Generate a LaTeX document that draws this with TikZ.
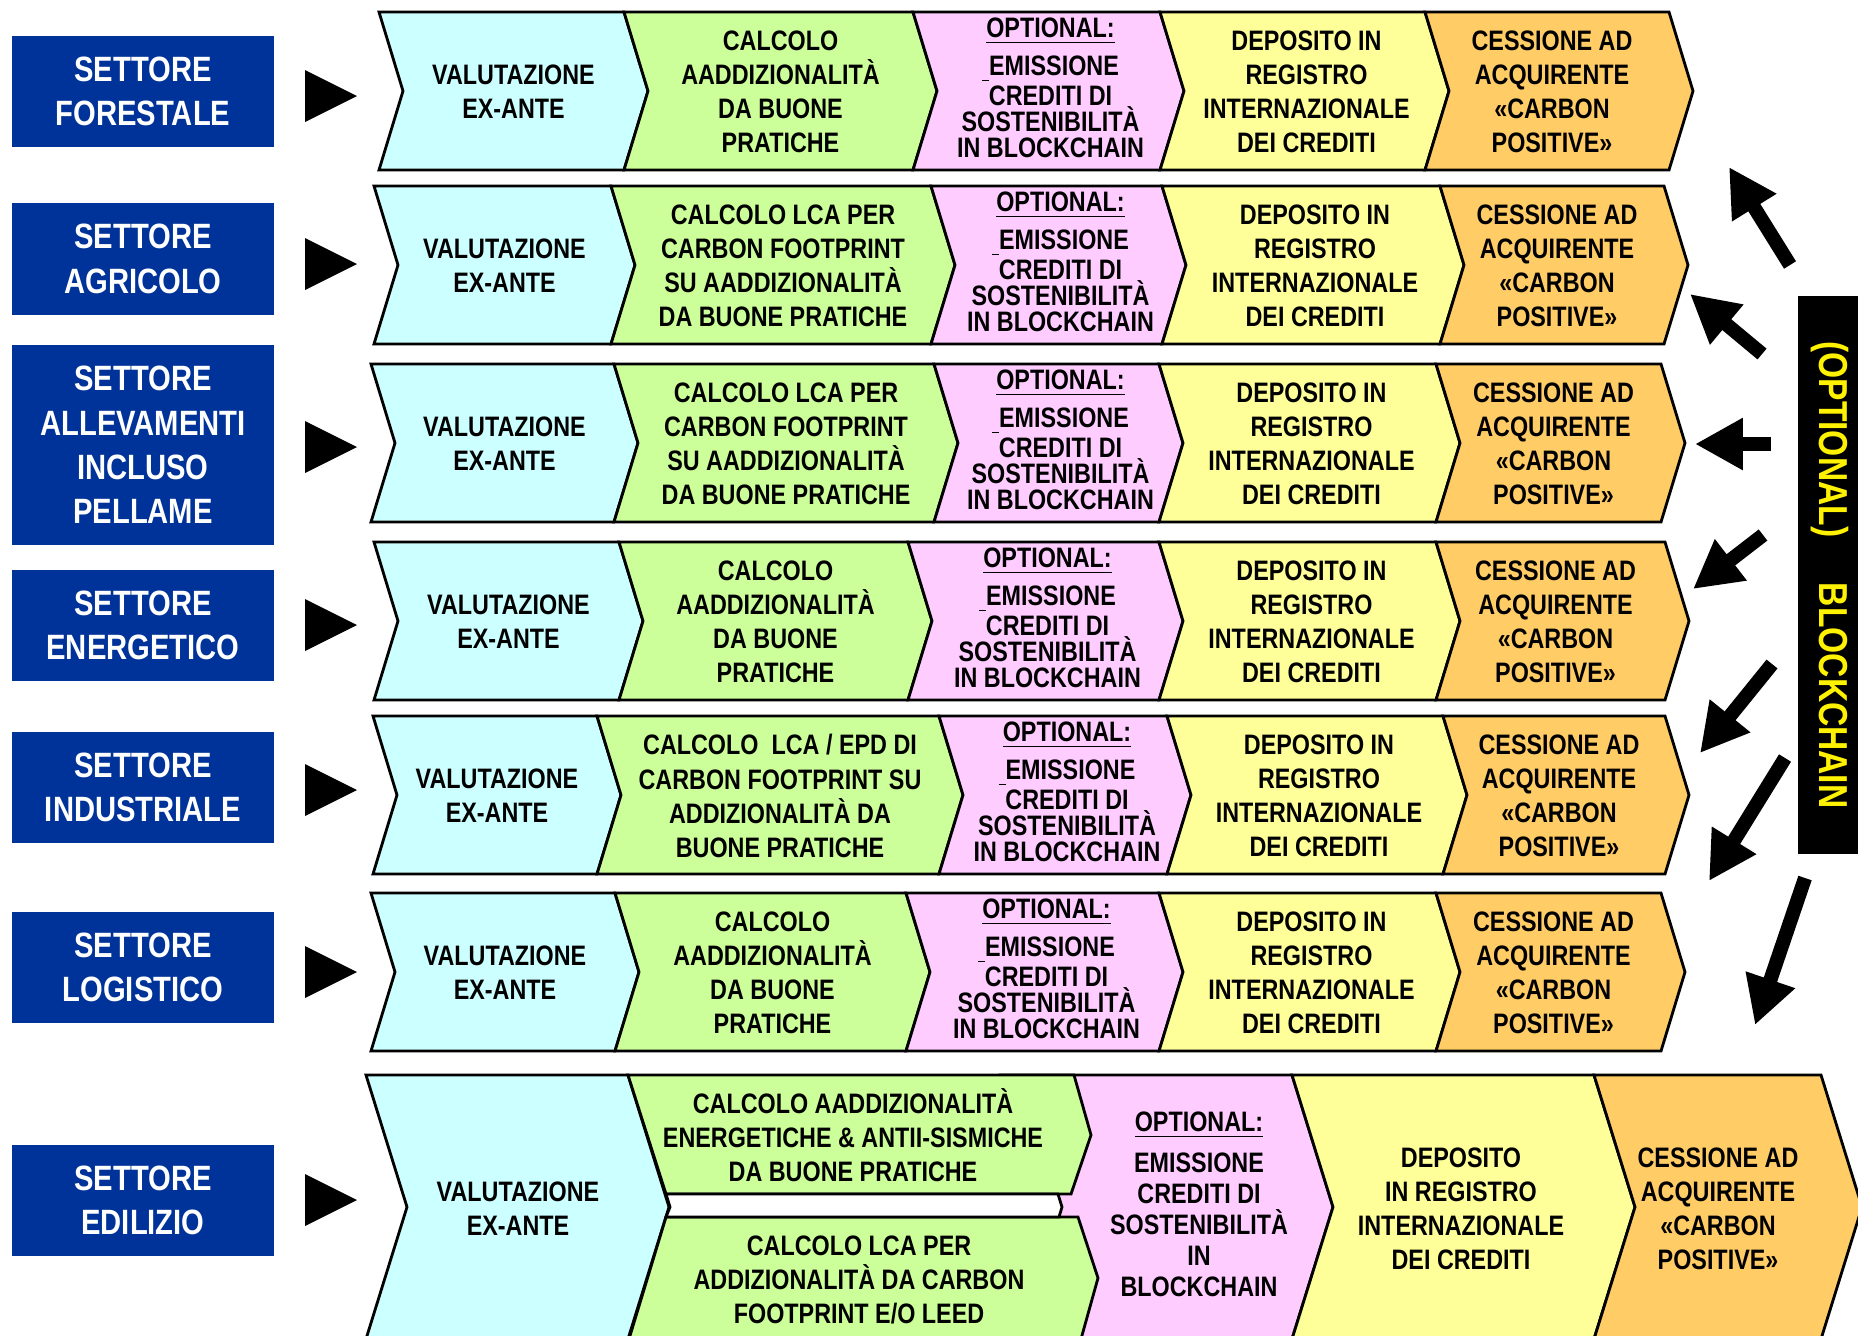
\documentclass[tikz,border=0pt]{standalone}
\usepackage{fontspec}
\newfontfamily\narrow[FakeStretch=0.83]{Liberation Sans}
\usetikzlibrary{arrows.meta}
\definecolor{sectblue}{HTML}{003399}
\definecolor{chcyan}{HTML}{CCFFFF}
\definecolor{chgreen}{HTML}{CCFF99}
\definecolor{chpink}{HTML}{FFCCFF}
\definecolor{chyellow}{HTML}{FFFF99}
\definecolor{chorange}{HTML}{FFCC66}

% one chevron: left x, right x, top y, height, depth, fill
\newcommand{\chev}[6]{%
  \filldraw[fill=#6,chevline] (#1,#3) -- (#2,#3) -- (#2+#5,#3+#4/2) -- (#2,#3+#4)
    -- (#1,#3+#4) -- (#1+#5,#3+#4/2) -- cycle;}

\newcommand{\greenA}{CALCOLO\\AADDIZIONALITÀ\\DA BUONE\\PRATICHE}
\newcommand{\greenB}{CALCOLO LCA PER\\CARBON FOOTPRINT\\SU AADDIZIONALITÀ\\DA BUONE PRATICHE}
\newcommand{\greenC}{CALCOLO\ \ LCA / EPD DI\\CARBON FOOTPRINT SU\\ADDIZIONALITÀ DA\\BUONE PRATICHE}

\begin{document}
\begin{tikzpicture}[x=0.01cm,y=-0.01cm,
  chevline/.style={draw=black,line width=0.8pt,line join=miter},
  txt/.style={font=\narrow\bfseries\fontsize{8}{9.7}\selectfont,align=center,inner sep=0pt},
  opt/.style={font=\narrow\bfseries\fontsize{8}{7.4}\selectfont,align=center,inner sep=0pt},
  sect/.style={fill=sectblue,text=white,font=\narrow\bfseries\fontsize{10}{12.6}\selectfont,
    align=center,inner sep=0pt,minimum width=2.62cm,minimum height=1.11cm},
  bcbox/.style={fill=black,text=yellow,font=\narrow\bfseries\fontsize{11.5}{13}\selectfont,
    rotate=-90,minimum width=5.57cm,minimum height=0.65cm,inner sep=0pt},
  barrow/.style={line width=4pt,-{Triangle[length=13.6pt,width=13.9pt]}}]
\useasboundingbox (0,0) rectangle (1858,1335);
\clip (0,0) rectangle (1858,1335);

% sectors
\node[sect] (s1) at (143,91.5) {SETTORE\\FORESTALE};
\node[sect] (s2) at (143,259) {SETTORE\\AGRICOLO};
\node[sect,minimum height=2cm] (s3) at (143,445) {SETTORE\\ALLEVAMENTI\\INCLUSO\\PELLAME};
\node[sect] (s4) at (143,625.5) {SETTORE\\ENERGETICO};
\node[sect] (s5) at (143,787.5) {SETTORE\\INDUSTRIALE};
\node[sect] (s6) at (143,967.5) {SETTORE\\LOGISTICO};
\node[sect] (s7) at (143,1200.5) {SETTORE\\EDILIZIO};
\foreach \y in {96,264,447,625,790,972,1200}
  \fill (305,\y-26) -- (357,\y) -- (305,\y+26) -- cycle;

% rows 1-6
\foreach \yt/\xa/\xb/\xc/\xd/\xe/\xf/\kind [count=\n] in
  {12/379/624/913/1160/1425/1669/A, 186/374/611/931/1162/1440/1664/B,
   364/371/614/934/1159/1436/1661/B, 542/374/619/908/1159/1436/1665/A,
   716/373/597/939/1167/1443/1665/C, 893/371/615/906/1159/1436/1661/A}{
  \chev{\xa}{\xb}{\yt}{158}{24}{chcyan}
  \chev{\xb}{\xc}{\yt}{158}{24}{chgreen}
  \chev{\xc}{\xd}{\yt}{158}{24}{chpink}
  \chev{\xd}{\xe}{\yt}{158}{24}{chyellow}
  \chev{\xe}{\xf}{\yt}{158}{24}{chorange}
  \node[txt] (va\n) at ({(\xa+\xb)/2+12},\yt+80) {VALUTAZIONE\\EX-ANTE};
  \node[txt] (ca\n) at ({(\xb+\xc)/2+12},\yt+80) {\csname green\kind\endcsname};
  \node[txt] (op\n) at ({(\xc+\xd)/2+14},\yt+19) {\underline{OPTIONAL:}};
  \node[opt] (em\n) at ({(\xc+\xd)/2+14},\yt+95) {\underline{\hspace{2pt}}EMISSIONE\\CREDITI DI\\SOSTENIBILITÀ\\IN BLOCKCHAIN};
  \node[txt] (de\n) at ({(\xd+\xe)/2+14},\yt+80) {DEPOSITO IN\\REGISTRO\\INTERNAZIONALE\\DEI CREDITI};
  \node[txt] (ce\n) at ({(\xe+\xf)/2+5},\yt+80) {CESSIONE AD\\ACQUIRENTE\\«CARBON\\POSITIVE»};
}

% row 7
\chev{366}{628}{1075}{264}{41}{chcyan}
\filldraw[fill=chpink,chevline] (1000,1075) -- (1292,1075) -- (1333,1207) -- (1292,1339) -- (1000,1339) -- cycle;
\chev{1292}{1594}{1075}{264}{41}{chyellow}
\chev{1594}{1821}{1075}{264}{41}{chorange}
\filldraw[fill=chgreen,chevline] (628,1075) -- (1074,1075) -- (1091,1135) -- (1071,1194) -- (666,1194) -- cycle;
\filldraw[fill=chgreen,chevline] (666,1217) -- (1078,1217) -- (1098,1278) -- (1081,1339) -- (629,1339) -- cycle;
\filldraw[fill=white,chevline] (670,1207) -- (666,1194) -- (1058,1194) -- (1062,1207) -- (1059,1217) -- (666,1217) -- cycle;
\node[txt] (va7) at (518,1209) {VALUTAZIONE\\EX-ANTE};
\node[txt] (ca7) at (853,1135) {CALCOLO AADDIZIONALITÀ\\ENERGETICHE \& ANTII-SISMICHE\\DA BUONE PRATICHE};
\node[txt] (cb7) at (859,1280) {CALCOLO LCA PER\\ADDIZIONALITÀ DA CARBON\\FOOTPRINT E/O LEED};
\node[txt] (op7) at (1199,1125) {\underline{OPTIONAL:}};
\node[txt,font=\narrow\bfseries\fontsize{8}{8.8}\selectfont] (em7) at (1199,1225) {EMISSIONE\\CREDITI DI\\SOSTENIBILITÀ\\IN\\BLOCKCHAIN};
\node[txt] (de7) at (1461,1209) {DEPOSITO\\IN REGISTRO\\INTERNAZIONALE\\DEI CREDITI};
\node[txt] (ce7) at (1718,1209) {CESSIONE AD\\ACQUIRENTE\\«CARBON\\POSITIVE»};

% blockchain
\node[bcbox] (bc) at (1830,575) {(OPTIONAL)\hspace{13pt}BLOCKCHAIN};
\foreach \tx/\ty/\hx/\hy [count=\k] in {1790/265/1729/167, 1762/354/1690/294,
  1771/444/1695/444, 1763/535/1693/589, 1772/664/1700/753, 1785/758/1709/881,
  1805/878/1755/1025}{
  \coordinate (t\k) at (\tx,\ty);
  \coordinate (h\k) at (\hx,\hy);
  \draw[barrow] (t\k) -- (h\k);
}
\end{tikzpicture}
\end{document}
